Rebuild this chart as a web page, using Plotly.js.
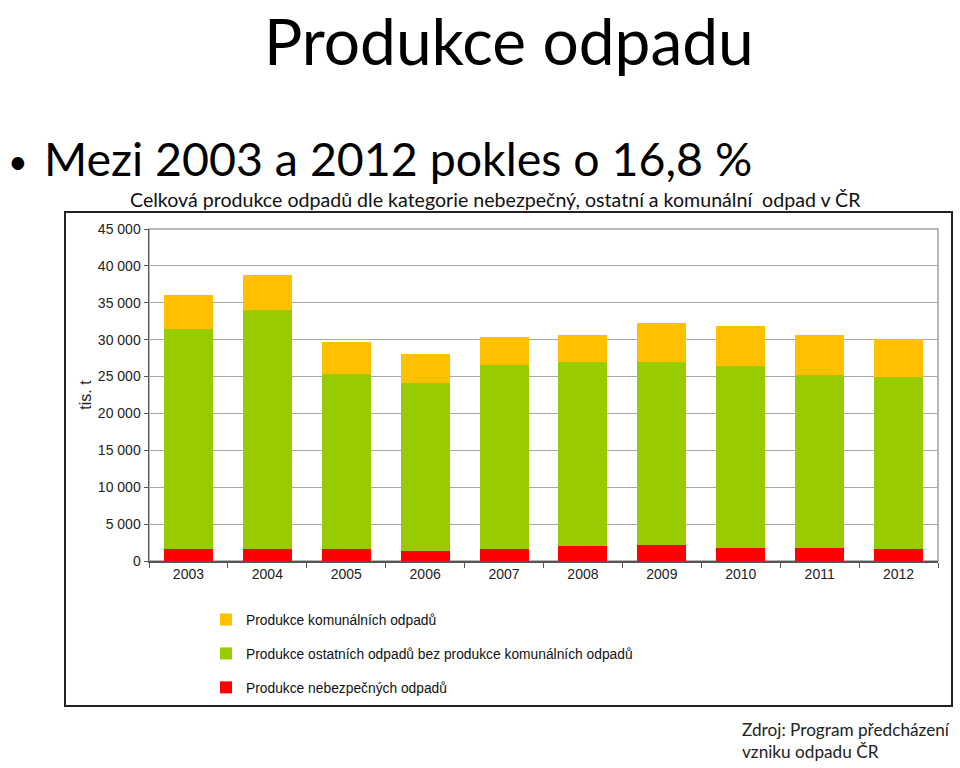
<!DOCTYPE html>
<html>
<head>
<meta charset="utf-8">
<script src="https://cdn.plot.ly/plotly-3.0.1.min.js"></script>
<style>html,body{margin:0;padding:0;background:#fff;}#chart{width:960px;height:768px;}</style>
</head>
<body>
<div id="chart"></div>
<script>
const years = ['2003','2004','2005','2006','2007','2008','2009','2010','2011','2012'];
const hazardous = [1680, 1680, 1590, 1410, 1680, 2040, 2130, 1720, 1820, 1680];
const otherWaste = [29720, 32380, 23710, 22690, 24920, 24920, 24830, 24680, 23380, 23220];
const municipal = [4700, 4740, 4400, 4000, 3800, 3740, 5340, 5450, 5500, 5180];
const seriesNames = ['Produkce nebezpečných odpadů',
  'Produkce ostatních odpadů bez produkce komunálních odpadů',
  'Produkce komunálních odpadů'];
const seriesColors = ['#ff0000', '#99cc00', '#ffc000'];

const L = 149, R = 938, T = 229, B = 561;
const px = x => (x - L) / (R - L);
const py = y => (B - y) / (B - T);

const traces = [hazardous, otherWaste, municipal].map((vals, i) => ({
  type: 'bar', x: years, y: vals, name: seriesNames[i],
  legendgroup: 'g' + i, legendrank: 3 - i,
  marker: {color: seriesColors[i]}, hoverinfo: 'x+y+name'
}));

const layout = {
  width: 960, height: 768,
  margin: {l: L, r: 960 - R, t: T, b: 768 - B},
  paper_bgcolor: '#fff', plot_bgcolor: '#fff',
  barmode: 'stack', bargap: 0.38,
  separators: ', ',
  font: {family: '"Liberation Sans", Arial, sans-serif', color: '#222', size: 14},
  xaxis: {type: 'category', tickson: 'boundaries', ticks: 'outside', ticklen: 5,
    tickcolor: '#555', showline: true, linecolor: '#555', linewidth: 1.5,
    showgrid: false, tickfont: {size: 14, color: '#222'}},
  yaxis: {range: [0, 45000], dtick: 5000, tickformat: ',d', ticks: 'outside', ticklen: 4,
    tickcolor: '#555', showline: true, linecolor: '#555', linewidth: 1.5,
    gridcolor: '#a8a8a8', gridwidth: 1, zeroline: false,
    tickfont: {size: 14, color: '#222'},
    title: {text: 'tis. t', font: {size: 16, color: '#222'}, standoff: 2}},
  legend: {x: px(206), y: py(604), xanchor: 'left', yanchor: 'top',
    traceorder: 'grouped', tracegroupgap: 13,
    font: {size: 13.8, color: '#111'}, bgcolor: 'rgba(0,0,0,0)'},
  showlegend: true,
  shapes: [
    {type: 'rect', xref: 'paper', yref: 'paper', x0: 0, x1: 1, y0: 0, y1: 1,
      line: {color: '#a0a0a0', width: 1.5}, layer: 'below'},
    {type: 'rect', xref: 'paper', yref: 'paper', x0: px(65), x1: px(952), y0: py(212), y1: py(706),
      line: {color: '#222', width: 2}}
  ],
  annotations: [
    {xref: 'paper', yref: 'paper', x: px(509), y: py(0), xanchor: 'center', yanchor: 'top',
      text: 'Produkce odpadu', showarrow: false,
      font: {family: 'Lato, sans-serif', size: 64, color: '#000'}},
    {xref: 'paper', yref: 'paper', x: px(6), y: py(160), xanchor: 'left', yanchor: 'middle',
      text: '•', showarrow: false,
      font: {family: 'Lato, sans-serif', size: 34, color: '#000'}},
    {xref: 'paper', yref: 'paper', x: px(42), y: py(158), xanchor: 'left', yanchor: 'middle',
      text: 'Mezi 2003 a 2012 pokles o 16,8 %', showarrow: false,
      font: {family: 'Lato, sans-serif', size: 46.5, color: '#000'}},
    {xref: 'paper', yref: 'paper', x: px(495), y: py(199), xanchor: 'center', yanchor: 'middle',
      text: 'Celková produkce odpadů dle kategorie nebezpečný, ostatní a komunální  odpad v ČR',
      showarrow: false, font: {family: 'Lato, sans-serif', size: 19.6, color: '#111'}},
    {xref: 'paper', yref: 'paper', x: px(740), y: py(740), xanchor: 'left', yanchor: 'middle',
      text: 'Zdroj: Program předcházení<br>vzniku odpadu ČR', align: 'left',
      showarrow: false, font: {family: 'Lato, sans-serif', size: 17.2, color: '#222'}}
  ]
};

Plotly.newPlot('chart', traces, layout, {displayModeBar: false, staticPlot: true});
</script>
</body>
</html>
